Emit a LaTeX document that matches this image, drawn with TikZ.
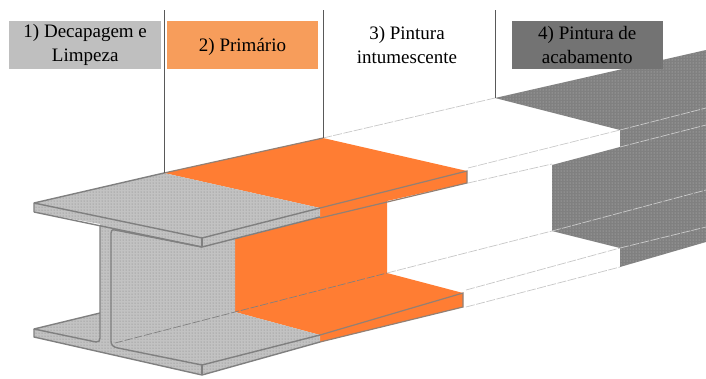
\documentclass[tikz,border=0pt]{standalone}
\usepackage{fontspec}
\setmainfont{Liberation Serif}
\usetikzlibrary{patterns}
\definecolor{stgrey}{HTML}{C2C2C2}
\definecolor{storange}{HTML}{FF7D33}
\definecolor{stdark}{HTML}{808080}
\definecolor{stedge}{HTML}{808080}
\definecolor{bxgrey}{HTML}{BFBFBF}
\definecolor{bxorange}{HTML}{F79D5B}
\definecolor{bxdark}{HTML}{737373}
\tikzset{
  lab/.style={minimum width=151.5pt,minimum height=48pt,inner sep=0pt,align=center,font=\fontsize{19pt}{23.5pt}\selectfont,text=black,execute at begin node=\rule{0pt}{17pt}},
  divider/.style={draw=black!65,line width=1pt},
  edge/.style={draw=stedge,line width=1.4pt,line join=round},
  oedge/.style={draw=stedge!85!storange,line width=1.2pt},
  wdash/.style={draw=black!22,line width=.7pt,dash pattern=on 9pt off 1.5pt},
  ddash/.style={draw=white!80!black,line width=.7pt,dash pattern=on 9pt off 1.5pt},
  thin dash/.style={draw=stedge,line width=.7pt,dash pattern=on 8pt off 2pt},
}
\begin{document}
\begin{tikzpicture}[x=1pt,y=-1pt]
\useasboundingbox (0,0) rectangle (706,378);
% dark part
\fill[stdark] (495,98) -- (706,50) -- (706,242) -- (620,267) -- (620,248) -- (552,231) -- (552,165) -- (620,147) -- (620,130) -- cycle;
\fill[pattern=dots,pattern color=black!25] (495,98) -- (706,50) -- (706,242) -- (620,267) -- (620,248) -- (552,231) -- (552,165) -- (620,147) -- (620,130) -- cycle;
% orange part
\fill[storange] (164,173) -- (323,138) -- (467,171) -- (467,183) -- (387,201) -- (387,273) -- (463,293) -- (463,307) -- (320,342) -- (320,335) -- (235,312) -- (235,238) -- (320,217) -- (320,208) -- cycle;
% grey part
\fill[stgrey] (34,203) -- (164,173) -- (320,208) -- (320,217) -- (235,238) -- (235,312) -- (320,335) -- (320,342) -- (202,375) -- (34,337) -- (34,329) -- (100,313) -- (100,224) -- (34,212) -- cycle;
\fill[pattern=dots,pattern color=black!50] (34,203) -- (164,173) -- (320,208) -- (320,217) -- (235,238) -- (235,312) -- (320,335) -- (320,342) -- (202,375) -- (34,337) -- (34,329) -- (100,313) -- (100,224) -- (34,212) -- cycle;
% white part edges
\draw[wdash] (323,138) -- (495,98);
\draw[wdash] (468,168) -- (620,130);
\draw[wdash] (468,183) -- (552,164);
\draw[wdash] (387,273) -- (552,231);
\draw[wdash] (466,290) -- (620,248);
\draw[wdash] (466,307) -- (620,267);
% dark part edges
\draw[ddash] (620,130) -- (706,108);
\draw[ddash] (620,147) -- (706,125);
\draw[ddash] (552,231) -- (706,190);
\draw[ddash] (620,248) -- (706,227);
% orange part edges
\draw[oedge] (164,173) -- (323,138);
\draw[oedge] (320,208) -- (467,171) -- (467,183) -- (320,218);
\draw[oedge] (320,335) -- (463,293) -- (463,307) -- (320,342);
\draw[thin dash] (115,343) -- (235,312) -- (387,273);
% grey part edges
\draw[edge] (34,212) -- (34,203) -- (164,173);
\draw[edge] (34,203) -- (202,238) -- (320,208);
\draw[edge] (34,212) -- (202,247) -- (320,217);
\draw[edge] (202,238) -- (202,247);
\draw[edge] (100,225) -- (100,338) .. controls (100,341) and (99,342) .. (96,342) -- (34,329) -- (100,313);
\draw[edge] (34,329) -- (34,337) -- (202,375) -- (320,342);
\draw[edge] (202,365) -- (320,335);
\draw[edge] (202,365) -- (202,375);
\draw[edge] (202,365) -- (118,348) .. controls (113,347) and (111,345) .. (111,341) -- (111,233) .. controls (111,231) and (112,229) .. (115,230) -- (202,247);
% labels
\node[lab,fill=bxgrey] (n1) at (85.2,45) {1) Decapagem e\\Limpeza};
\node[lab,fill=bxorange] (n2) at (242.5,45) {2) Primário};
\node[lab] (n3) at (407,45) {3) Pintura\\intumescente};
\node[lab,fill=bxdark] (n4) at (587.3,45) {4) Pintura de\\acabamento};
% dividers
\coordinate (d1t) at (164.5,10); \coordinate (d1b) at (164.5,173);
\coordinate (d2t) at (323,10);   \coordinate (d2b) at (323,138);
\coordinate (d3t) at (495,10);   \coordinate (d3b) at (495,98);
\draw[divider] (d1t) -- (d1b);
\draw[divider] (d2t) -- (d2b);
\draw[divider] (d3t) -- (d3b);
\end{tikzpicture}
\end{document}
